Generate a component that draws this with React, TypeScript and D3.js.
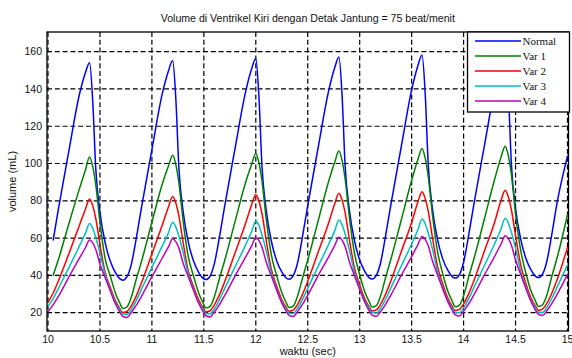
import React from "react";
import * as d3 from "d3";

// Time axis (sec)
const TIME = [
  10.0, 10.05, 10.1, 10.2, 10.3, 10.36,
  10.4, 10.43, 10.46, 10.5, 10.55, 10.6, 10.65, 10.69, 10.72, 10.76, 10.8, 10.85, 10.9, 11.0, 11.1, 11.16,
  11.2, 11.23, 11.26, 11.3, 11.35, 11.4, 11.45, 11.49, 11.52, 11.56, 11.6, 11.65, 11.7, 11.8, 11.9, 11.96,
  12.0, 12.03, 12.06, 12.1, 12.15, 12.2, 12.25, 12.29, 12.32, 12.36, 12.4, 12.45, 12.5, 12.6, 12.7, 12.76,
  12.8, 12.83, 12.86, 12.9, 12.95, 13.0, 13.05, 13.09, 13.12, 13.16, 13.2, 13.25, 13.3, 13.4, 13.5, 13.56,
  13.6, 13.63, 13.66, 13.7, 13.75, 13.8, 13.85, 13.89, 13.92, 13.96, 14.0, 14.05, 14.1, 14.2, 14.3, 14.36,
  14.4, 14.43, 14.46, 14.5, 14.55, 14.6, 14.65, 14.69, 14.72, 14.76, 14.8, 14.85, 14.9, 15.0,
];

const NORMAL = [
  null, 59, 75.5, 106.5, 136.5, 148.7,
  154.1, 134, 97, 74, 57.5, 47.5, 41.3, 38.2, 37.4, 39.3, 45.5, 60, 76.5, 107.5, 137.5, 149.8,
  155.3, 135, 97.5, 74.5, 58, 47.8, 41.6, 38.5, 37.7, 39.6, 46, 60.5, 77, 108, 138, 150.8,
  156.4, 136, 98, 75, 58.3, 48, 41.8, 38.7, 37.9, 39.8, 46.2, 61, 77.5, 108.5, 138.7, 151.5,
  157.1, 137, 98.5, 75.3, 58.5, 48.2, 42, 38.8, 38.0, 40, 46.5, 61.5, 78, 109, 139.5, 152.5,
  158.2, 138, 99, 75.8, 59, 48.7, 42.5, 39.3, 38.5, 40.4, 47, 62, 78.5, 109.5, 140, 153.2,
  159, 139, 99.5, 76, 59.3, 49, 42.8, 39.6, 38.8, 40.7, 47.3, 62.3, 79, 104,
];

const VAR1 = [
  null, 40.1, 48.5, 67.5, 86, 96.5,
  103.5, 98.5, 88.5, 68.5, 49, 39.5, 30.3, 25.3, 22.2, 23, 28, 38, 47.5, 68.5, 89, 98.8,
  104.5, 99.5, 89.5, 69.5, 50, 39.8, 30.5, 25.5, 22.5, 23.3, 28.3, 38.3, 47.8, 68.8, 89.5, 99.6,
  105.4, 100.4, 90.4, 70.4, 50.8, 40, 30.8, 25.7, 22.7, 23.5, 28.5, 38.6, 48.2, 69.2, 90.2, 100.8,
  106.7, 101.7, 91.7, 71.5, 51.8, 40.3, 31, 26, 23.0, 23.8, 28.8, 39, 48.6, 69.7, 91, 102.1,
  108.1, 103, 93, 72.5, 52.5, 40.6, 31.2, 26.2, 23.1, 24, 29, 39.3, 49, 70.2, 91.8, 103.3,
  109.3, 104.3, 94, 73, 53.2, 41, 31.4, 26.4, 23.3, 24.2, 29.2, 39.6, 49.4, 72.5,
];

const VAR2 = [
  25.5, 30.5, 37, 51.5, 66.5, 75.5,
  80.9, 77.4, 70.5, 56.5, 41.5, 33.5, 26.3, 22.3, 20.0, 20.6, 23.5, 29, 36, 51.5, 67, 76.8,
  82.3, 78.8, 71.8, 57.8, 42.3, 34, 26.8, 22.7, 20.4, 21, 24, 29.5, 36.5, 52, 67.7, 77.9,
  83.4, 79.9, 72.9, 58.9, 43.2, 34.4, 27, 23, 20.7, 21.3, 24.2, 29.8, 36.8, 52.4, 68, 78.5,
  84, 80.5, 73.5, 59.5, 43.8, 34.8, 27.3, 23.2, 20.9, 21.5, 24.4, 30, 37, 52.7, 68.4, 79.3,
  84.8, 81.3, 74.3, 60.3, 44.5, 35.2, 27.5, 23.4, 21.1, 21.7, 24.6, 30.2, 37.3, 53, 68.8, 80.2,
  85.7, 82.2, 75.2, 61.2, 45.5, 35.5, 27.7, 23.6, 21.3, 21.9, 24.8, 30.5, 37.6, 55,
];

const VAR3 = [
  23.4, 27.5, 33, 44, 55.5, 62.5,
  67.8, 65.3, 60.3, 52, 40.3, 32.2, 25.3, 21.6, 19.2, 19.0, 21.6, 26.6, 32.6, 44.2, 55.8, 62.9,
  68.5, 66, 61, 52.5, 40.7, 32.5, 25.5, 21.9, 19.5, 19.3, 21.9, 26.9, 32.9, 44.5, 56.1, 63.5,
  69.2, 66.7, 61.7, 53.2, 41.2, 32.8, 25.8, 22.1, 19.7, 19.5, 22.1, 27.1, 33.1, 44.8, 56.5, 64,
  69.7, 67.2, 62.2, 53.7, 41.5, 33, 26, 22.3, 19.9, 19.7, 22.3, 27.3, 33.3, 45, 56.8, 64.5,
  70.2, 67.7, 62.7, 54.2, 41.8, 33.3, 26.2, 22.5, 20.1, 19.9, 22.5, 27.5, 33.5, 45.3, 57.1, 64.9,
  70.6, 68.1, 63.1, 54.6, 42.2, 33.6, 26.4, 22.7, 20.3, 20.1, 22.7, 27.7, 33.7, 45.5,
];

const VAR4 = [
  20.4, 24.3, 28.7, 39, 49, 54.8,
  58.9, 57.4, 53.9, 46, 38.8, 31.5, 24.6, 20.4, 18, 17.4, 19.9, 24, 28.8, 39.3, 49.3, 55.4,
  59.6, 58.1, 54.6, 46.6, 39.3, 32, 25, 20.8, 18.3, 17.7, 20.2, 24.3, 29.1, 39.6, 49.6, 55.8,
  60.1, 58.6, 55.1, 47.1, 39.6, 32.2, 25.2, 21, 18.5, 17.9, 20.4, 24.5, 29.3, 39.8, 49.8, 56.1,
  60.4, 58.9, 55.4, 47.4, 39.8, 32.4, 25.4, 21.1, 18.6, 18.0, 20.5, 24.6, 29.4, 40, 50, 56.5,
  60.8, 59.3, 55.8, 47.8, 40.1, 32.6, 25.6, 21.3, 18.8, 18.2, 20.7, 24.8, 29.6, 40.2, 50.3, 56.8,
  61.2, 59.7, 56.2, 48.2, 40.4, 32.8, 25.8, 21.5, 19, 18.4, 20.9, 25, 29.8, 40.5,
];

const SERIES_NAMES = ["Normal", "Var 1", "Var 2", "Var 3", "Var 4"];
const SERIES_VALUES = [NORMAL, VAR1, VAR2, VAR3, VAR4];
const SERIES_COLORS = ["#0000ff", "#008000", "#ff0000", "#00bfbf", "#bf00bf"];

const X_TICKS = [10, 10.5, 11, 11.5, 12, 12.5, 13, 13.5, 14, 14.5, 15];
const X_TICK_LABELS = ["10", "10.5", "11", "11.5", "12", "12.5", "13", "13.5", "14", "14.5", "15"];
const Y_TICKS = [20, 40, 60, 80, 100, 120, 140, 160];

const TITLE = "Volume di Ventrikel Kiri dengan Detak Jantung = 75 beat/menit";
const X_LABEL = "waktu (sec)";
const Y_LABEL = "volume (mL)";

export default function App() {
  const W = 572;
  const H = 358;
  const x = d3.scaleLinear().domain([10, 15]).range([48, 567.5]);
  const y = d3.scaleLinear().domain([20, 160]).range([312.6, 51.7]);
  const left = 47;
  const right = 568.5;
  const top = 32;
  const bottom = 331;

  const line = d3
    .line<number>()
    .defined((d) => d != null)
    .x((_, i) => x(TIME[i]))
    .y((d) => y(d as number))
    .curve(d3.curveMonotoneX);

  const sans = "'Liberation Sans', Arial, Helvetica, sans-serif";
  const serif = "'Liberation Serif', 'Times New Roman', serif";

  const legX = 467.5;
  const legY = 32;
  const legW = 102;
  const legH = 80;

  return (
    <svg
      width={W}
      height={H}
      viewBox={`0 0 ${W} ${H}`}
      style={{ position: "absolute", left: 0, top: 0, background: "#fff" }}
    >
      <defs>
        <clipPath id="plotclip">
          <rect x={left} y={top} width={right - left} height={bottom - top} />
        </clipPath>
      </defs>
      <rect x={0} y={0} width={W} height={H} fill="#fff" />

      {/* grid */}
      <g stroke="#000" strokeWidth={1.2} strokeDasharray="5,2.8" fill="none">
        {X_TICKS.map((t) => (
          <line key={"gx" + t} x1={x(t)} x2={x(t)} y1={top} y2={bottom} />
        ))}
        {Y_TICKS.map((t) => (
          <line key={"gy" + t} x1={left} x2={right} y1={y(t)} y2={y(t)} />
        ))}
      </g>

      {/* series */}
      <g clipPath="url(#plotclip)" fill="none" strokeLinejoin="round" strokeLinecap="round">
        {SERIES_VALUES.map((vals, i) => (
          <path
            key={SERIES_NAMES[i]}
            d={line(vals as number[]) || ""}
            stroke={SERIES_COLORS[i]}
            strokeWidth={1.5}
          />
        ))}
      </g>

      {/* axes box */}
      <rect
        x={left}
        y={top}
        width={right - left}
        height={bottom - top}
        fill="none"
        stroke="#000"
        strokeWidth={1.3}
      />

      {/* tick labels */}
      <g fontFamily={sans} fontSize={10.5} fill="#111">
        {X_TICKS.map((t, i) => (
          <text key={"xl" + t} x={x(t)} y={342.5} textAnchor="middle">
            {X_TICK_LABELS[i]}
          </text>
        ))}
        {Y_TICKS.map((t) => (
          <text key={"yl" + t} x={42} y={y(t) + 3.7} textAnchor="end">
            {t}
          </text>
        ))}
      </g>

      {/* titles */}
      <text x={(left + right) / 2} y={22} textAnchor="middle" fontFamily={sans} fontSize={10.6} fill="#111">
        {TITLE}
      </text>
      <text x={(left + right) / 2} y={355} textAnchor="middle" fontFamily={sans} fontSize={11} fill="#111">
        {X_LABEL}
      </text>
      <text
        transform={`translate(15.5, ${(top + bottom) / 2}) rotate(-90)`}
        textAnchor="middle"
        fontFamily={sans}
        fontSize={11}
        fill="#111"
      >
        {Y_LABEL}
      </text>

      {/* legend */}
      <g>
        <rect x={legX} y={legY} width={legW} height={legH} fill="#fff" stroke="#000" strokeWidth={1.3} />
        {SERIES_NAMES.map((name, i) => {
          const ly = 41 + i * 15;
          return (
            <g key={"leg" + name}>
              <line x1={475} x2={521} y1={ly} y2={ly} stroke={SERIES_COLORS[i]} strokeWidth={1.5} />
              <text x={522.5} y={ly + 4} fontFamily={serif} fontSize={11} fill="#111">
                {name}
              </text>
            </g>
          );
        })}
      </g>
    </svg>
  );
}
